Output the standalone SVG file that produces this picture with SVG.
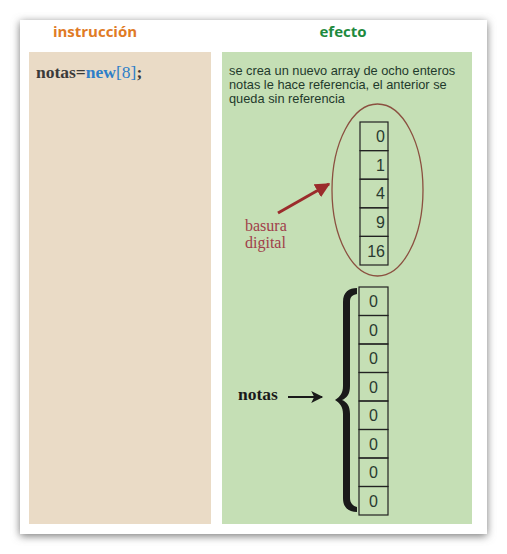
<svg xmlns="http://www.w3.org/2000/svg" width="507" height="554" viewBox="0 0 507 554">
<defs>
<filter id="sh" x="-10%" y="-10%" width="120%" height="120%">
<feGaussianBlur stdDeviation="4"/>
</filter>
<marker id="ar" viewBox="0 0 10 10" refX="9" refY="5" markerWidth="5" markerHeight="5" orient="auto">
<path d="M0,0 L10,5 L0,10 Z" fill="#9B2B2B"/>
</marker>
<marker id="ak" viewBox="0 0 10 10" refX="9" refY="5" markerWidth="6.5" markerHeight="6" orient="auto">
<path d="M0,0 L10,5 L0,10 L2.5,5 Z" fill="#1a1a1a"/>
</marker>
<style>
.cell{fill:none;stroke:#222;stroke-width:1.2}
.num{font-family:"Liberation Sans",Arial,sans-serif;font-size:16px;fill:#2a3a30}
.desc{font-family:"Liberation Sans",Arial,sans-serif;font-size:12.8px;fill:#1f3a2c}
.hdr{font-family:"Open Sans","Liberation Sans",sans-serif;font-size:15px;font-weight:bold}
</style>
</defs>
<rect x="20" y="22" width="467" height="514" fill="#777" filter="url(#sh)"/>
<rect x="20" y="20" width="467" height="514" fill="#ffffff"/>
<rect x="29" y="52" width="182" height="472" fill="#EADBC6"/>
<rect x="222" y="52" width="250" height="472" fill="#C5DFB5"/>
<text class="hdr" x="95" y="37" text-anchor="middle" fill="#E07B26">instrucción</text>
<text class="hdr" x="343" y="37" text-anchor="middle" fill="#1E8A3E">efecto</text>
<text x="36" y="78" font-family="'Liberation Serif',serif" font-size="17.5" font-weight="bold" fill="#3a3a3a">notas=<tspan fill="#2E7FC8">new</tspan><tspan fill="#2E7FC8" font-weight="normal">[8]</tspan>;</text>
<text class="desc"><tspan x="229" y="75">se crea un nuevo array de ocho enteros</tspan><tspan x="229" y="89">notas le hace referencia, el anterior se</tspan><tspan x="229" y="103">queda sin referencia</tspan></text>
<g id="old-array">
<rect class="cell" x="360" y="122" width="28" height="28.6"/>
<rect class="cell" x="360" y="150.6" width="28" height="28.6"/>
<rect class="cell" x="360" y="179.2" width="28" height="28.6"/>
<rect class="cell" x="360" y="207.8" width="28" height="28.6"/>
<rect class="cell" x="360" y="236.4" width="28" height="28.6"/>
<text class="num" text-anchor="end"><tspan x="385" y="142">0</tspan><tspan x="385" y="171">1</tspan><tspan x="385" y="199">4</tspan><tspan x="385" y="228">9</tspan><tspan x="385" y="257">16</tspan></text>
</g>
<g id="garbage">
<ellipse cx="377.5" cy="190" rx="45.5" ry="86" fill="none" stroke="#8B5040" stroke-width="1.3"/>
<text font-family="'Liberation Serif',serif" font-size="16" fill="#A0404A"><tspan x="245" y="231">basura</tspan><tspan x="245" y="248">digital</tspan></text>
</g>
<g id="new-array">
<rect class="cell" x="359" y="287" width="29" height="28.5"/>
<rect class="cell" x="359" y="315.5" width="29" height="28.5"/>
<rect class="cell" x="359" y="344" width="29" height="28.5"/>
<rect class="cell" x="359" y="372.5" width="29" height="28.5"/>
<rect class="cell" x="359" y="401" width="29" height="28.5"/>
<rect class="cell" x="359" y="429.5" width="29" height="28.5"/>
<rect class="cell" x="359" y="458" width="29" height="28.5"/>
<rect class="cell" x="359" y="486.5" width="29" height="28.5"/>
<text class="num" text-anchor="middle"><tspan x="373.5" y="307">0</tspan><tspan x="373.5" y="335.5">0</tspan><tspan x="373.5" y="364">0</tspan><tspan x="373.5" y="392.5">0</tspan><tspan x="373.5" y="421">0</tspan><tspan x="373.5" y="449.5">0</tspan><tspan x="373.5" y="478">0</tspan><tspan x="373.5" y="506.5">0</tspan></text>
<path d="M357,288 C349,288 343,292 343,302 L343,386 C343,393 340,397 335,400 C340,403 343,407 343,414 L343,498 C343,508 349,512 357,512 L357,507 C353,506 350,503 350,498 L350,414 C350,406 347,402 342,400 C347,398 350,394 350,386 L350,302 C350,297 352,295 357,294 Z" fill="#1a1a1a"/>
<text x="238" y="400" font-family="'Liberation Serif',serif" font-size="17.5" font-weight="bold" fill="#1a1a1a">notas</text>
</g>
<g id="connectors">
<line x1="278" y1="213" x2="329" y2="184" stroke="#9B2B2B" stroke-width="3" marker-end="url(#ar)"/>
<line x1="288" y1="397" x2="322" y2="397" stroke="#1a1a1a" stroke-width="2" marker-end="url(#ak)"/>
</g>
</svg>
